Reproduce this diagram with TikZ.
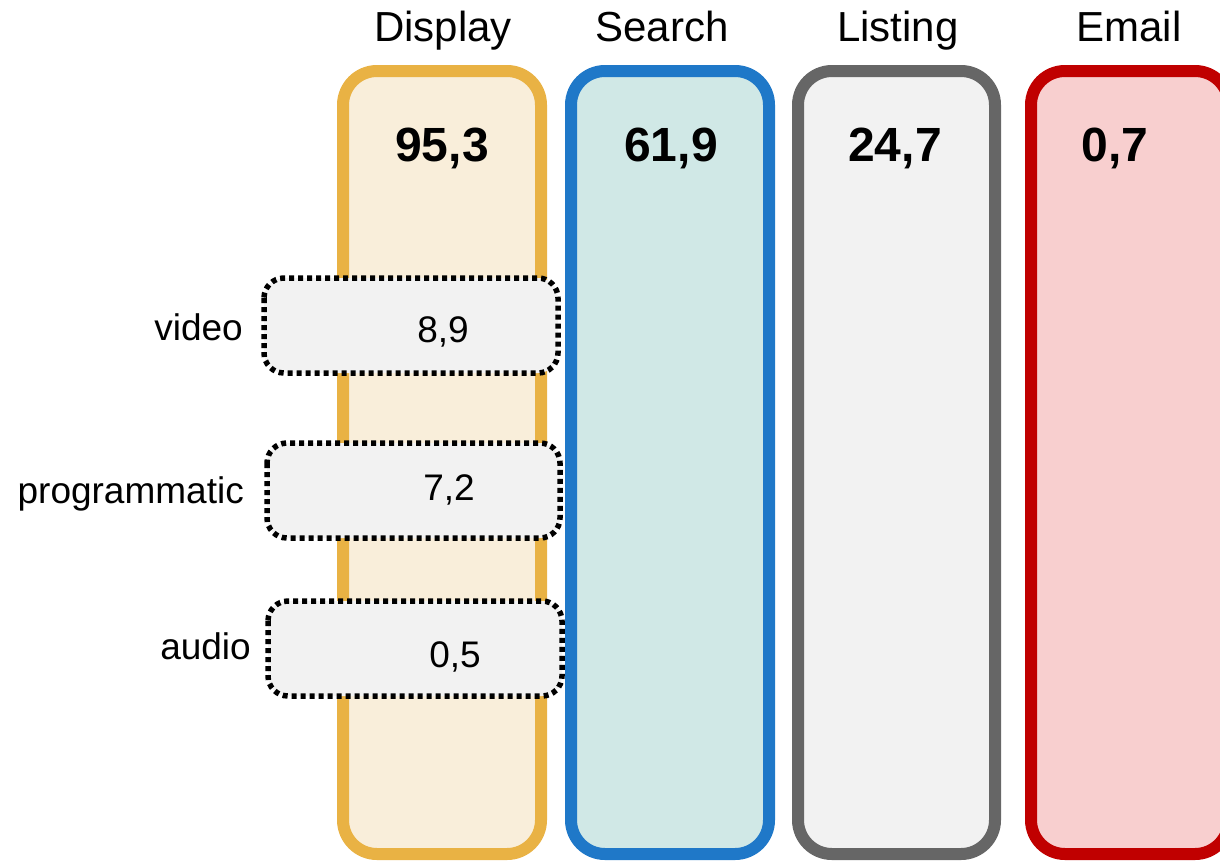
\documentclass[tikz,border=0pt]{standalone}
\usepackage{fontspec}
\setmainfont{Liberation Sans}
\definecolor{ystroke}{HTML}{E9B244}
\definecolor{yfill}{HTML}{F9EEDA}
\definecolor{bstroke}{HTML}{1F78C8}
\definecolor{bfill}{HTML}{D0E8E6}
\definecolor{gstroke}{HTML}{666666}
\definecolor{gfill}{HTML}{F2F2F2}
\definecolor{rstroke}{HTML}{C00000}
\definecolor{rfill}{HTML}{F8CFCF}
\definecolor{subfill}{HTML}{F2F2F2}
\tikzset{
  column/.style={line width=12pt, rounded corners=34pt},
  subbox/.style={line width=5.5pt, dash pattern=on 5pt off 4pt, rounded corners=20pt, draw=black, fill=subfill},
  title/.style={anchor=base, inner sep=0pt, font=\fontsize{42}{50}\selectfont},
  big/.style={anchor=base, inner sep=0pt, font=\fontsize{48}{56}\selectfont\bfseries},
  small/.style={anchor=base, inner sep=0pt, font=\fontsize{37}{44}\selectfont},
  lbl/.style={anchor=base east, inner sep=0pt, font=\fontsize{37}{44}\selectfont},
}
\begin{document}
\begin{tikzpicture}[x=1pt,y=-1pt]
\useasboundingbox (0,0) rectangle (1220,860);
% columns
\draw[column, draw=ystroke, fill=yfill] (343,71) rectangle (541,854);
\draw[column, draw=bstroke, fill=bfill] (571,71) rectangle (769,854);
\draw[column, draw=gstroke, fill=gfill] (798,71) rectangle (995,854);
\draw[column, draw=rstroke, fill=rfill] (1031,71) rectangle (1229,854);
% titles
\node[title] (tdisplay) at (443,41) {Display};
\node[title] (tsearch) at (662,41) {Search};
\node[title] (tlisting) at (898,41) {Listing};
\node[title] (temail) at (1129,41) {Email};
% big numbers
\node[big] (vdisplay) at (442,161) {95,3};
\node[big] (vsearch) at (671,161) {61,9};
\node[big] (vlisting) at (895,161) {24,7};
\node[big] (vemail) at (1115,161) {0,7};
% sub boxes
\draw[subbox] (264,278) rectangle (558,373);
\draw[subbox] (267,443) rectangle (560,538);
\draw[subbox] (268,601) rectangle (562,696);
\node[small] (nvideo) at (443,342) {8,9};
\node[small] (nprog) at (449,500) {7,2};
\node[small] (naudio) at (455,667) {0,5};
\node[lbl] (lvideo) at (243,340) {video};
\node[lbl] (lprog) at (244,503) {programmatic};
\node[lbl] (laudio) at (251,659) {audio};
\end{tikzpicture}
\end{document}
